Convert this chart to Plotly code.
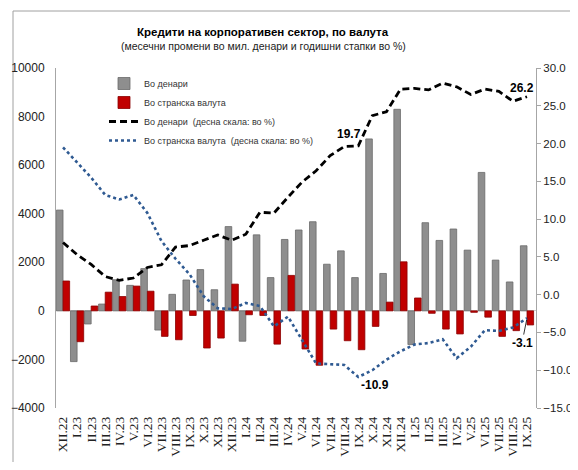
import plotly.graph_objects as go

# --- data ---
months = ["XII.22",
          "I.23", "II.23", "III.23", "IV.23", "V.23", "VI.23", "VII.23", "VIII.23", "IX.23", "X.23", "XI.23", "XII.23",
          "I.24", "II.24", "III.24", "IV.24", "V.24", "VI.24", "VII.24", "VIII.24", "IX.24", "X.24", "XI.24", "XII.24",
          "I.25", "II.25", "III.25", "IV.25", "V.25", "VI.25", "VII.25", "VIII.25", "IX.25"]

denars_chg = [4150, -2090, -540, 280, 1280, 1050, 1740, -790, 680, 1270, 1700, 870, 3470,
              -1250, 3130, 1370, 2940, 3330, 3670, 1920, 2470, 1370, 7080, 1540, 8300,
              -1390, 3630, 2900, 3370, 2500, 5700, 2090, 1190, 2680]

fx_chg = [1230, -1270, 200, 770, 590, 1020, 810, -1050, -1190, -190, -1530, -1120, 1100,
          -160, -190, -1370, 1460, -1570, -2240, -750, -1230, -1600, -640, 360, 2020,
          530, -100, -750, -950, -60, -260, -1050, -815, -580]

denars_yoy = [6.9, 5.3, 4.0, 2.4, 1.9, 2.2, 3.6, 3.95, 6.3, 6.5, 7.2, 7.9, 7.2,
              8.0, 10.9, 10.8, 12.9, 14.9, 16.4, 18.4, 19.6, 19.7, 23.7, 24.2, 27.2,
              27.3, 27.1, 28.0, 27.5, 26.5, 27.2, 26.9, 25.6, 26.2]

fx_yoy = [19.5, 17.5, 15.5, 13.2, 12.6, 13.2, 10.8, 7.1, 4.75, 2.7, -0.2, -1.8, -1.9,
          -1.1, -1.5, -4.2, -2.9, -6.0, -9.1, -9.2, -9.3, -10.9, -10.0, -8.6, -7.5,
          -6.6, -6.4, -5.9, -8.4, -6.9, -4.7, -4.8, -4.35, -3.1]

left_ticks = [-4000, -2000, 0, 2000, 4000, 6000, 8000, 10000]
right_ticks = [-15, -10, -5, 0, 5, 10, 15, 20, 25, 30]

title = "Кредити на корпоративен сектор, по валута"
subtitle = "(месечни промени во мил. денари и годишни стапки во %)"

# --- page geometry (page pixels); the page body adds an 8px margin ---
OFF = 8
W, H = 578, 470
L, R, T, B = 56, 536, 68, 408
pw, ph = R - L, B - T


def px_x(x):
    return (x - L) / pw


def px_y(y):
    return 1 - (y - T) / ph


SANS = "Liberation Sans, Arial, sans-serif"

fig = go.Figure()
fig.add_trace(go.Bar(
    x=months, y=denars_chg, name="Во денари",
    marker=dict(color="#8e8e8e", line=dict(color="#6a6a6a", width=0.8)),
))
fig.add_trace(go.Bar(
    x=months, y=fx_chg, name="Во странска валута",
    marker=dict(color="#c00000", line=dict(color="#8a0000", width=0.8)),
))
fig.add_trace(go.Scatter(
    x=months, y=denars_yoy, yaxis="y2", mode="lines",
    name="Во денари  (десна скала: во %)",
    line=dict(color="black", width=2.8, dash="7px,4px"),
))
fig.add_trace(go.Scatter(
    x=months, y=fx_yoy, yaxis="y2", mode="lines",
    name="Во странска валута  (десна скала: во %)",
    line=dict(color="#2f5a92", width=2.6, dash="dot"),
))

lbl_font = dict(size=12, color="black", family=SANS)
annotations = [
    dict(x=months[21], y=denars_yoy[21], yref="y2", text="<b>%.1f</b>" % denars_yoy[21],
         showarrow=False, xshift=-9, yshift=12, font=lbl_font),
    dict(x=months[-1], y=denars_yoy[-1], yref="y2", text="<b>%.1f</b>" % denars_yoy[-1],
         showarrow=False, xshift=-5, yshift=9, font=lbl_font),
    dict(x=months[21], y=fx_yoy[21], yref="y2", text="<b>%.1f</b>" % fx_yoy[21],
         showarrow=False, xshift=17, yshift=-8, font=lbl_font),
    dict(x=months[-1], y=fx_yoy[-1], yref="y2", text="<b>%.1f</b>" % fx_yoy[-1],
         showarrow=True, arrowhead=0, arrowwidth=0.8, arrowcolor="black",
         ax=-5, ay=25, standoff=2, font=lbl_font),
    dict(x=px_x(263), y=px_y(32), xref="paper", yref="paper", text="<b>" + title + "</b>",
         xanchor="center", yanchor="middle", showarrow=False,
         font=dict(size=11.5, color="black", family=SANS)),
    dict(x=px_x(263), y=px_y(46), xref="paper", yref="paper", text=subtitle,
         xanchor="center", yanchor="middle", showarrow=False,
         font=dict(size=10.5, color="#222222", family=SANS)),
]

fig.update_layout(
    width=W - OFF, height=H - 2 * OFF,
    margin=dict(l=L - OFF, r=W - R, t=T - OFF, b=H - OFF - B, autoexpand=False),
    paper_bgcolor="white", plot_bgcolor="white",
    font=dict(family=SANS, color="#222222", size=12),
    barmode="group", bargap=0.06, bargroupgap=0,
    showlegend=True,
    legend=dict(x=px_x(104), y=px_y(69), xanchor="left", yanchor="top",
                bgcolor="rgba(0,0,0,0)", font=dict(size=9, color="#333333", family=SANS),
                tracegroupgap=0),
    xaxis=dict(type="category", tickangle=-90, showline=False, ticks="",
               tickmode="array", tickvals=months, ticktext=months, ticklabelstandoff=5,
               tickfont=dict(family="Liberation Serif, Times New Roman, serif", size=13.5, color="#222222"),
               showgrid=False, zeroline=False),
    yaxis=dict(range=[-4000, 10000], tickvals=left_ticks, tickformat="d", showgrid=False,
               zeroline=True, zerolinecolor="#d0d0d0", zerolinewidth=1,
               showline=True, linecolor="#a6a6a6", linewidth=1, ticks="",
               ticklabelstandoff=8, tickfont=dict(size=12)),
    yaxis2=dict(range=[-15, 30], tickvals=right_ticks, tickformat=".1f", overlaying="y",
                side="right", showgrid=False, zeroline=False,
                showline=True, linecolor="#a6a6a6", linewidth=1,
                ticks="outside", ticklen=4, tickcolor="#a6a6a6",
                ticklabelstandoff=0, tickfont=dict(size=11.5)),
    annotations=annotations,
    shapes=[dict(type="rect", xref="paper", yref="paper",
                 x0=px_x(13), x1=px_x(577), y0=px_y(480), y1=px_y(11),
                 line=dict(color="#a0a0a0", width=1), layer="below")],
)

fig.write_html("out.html")
